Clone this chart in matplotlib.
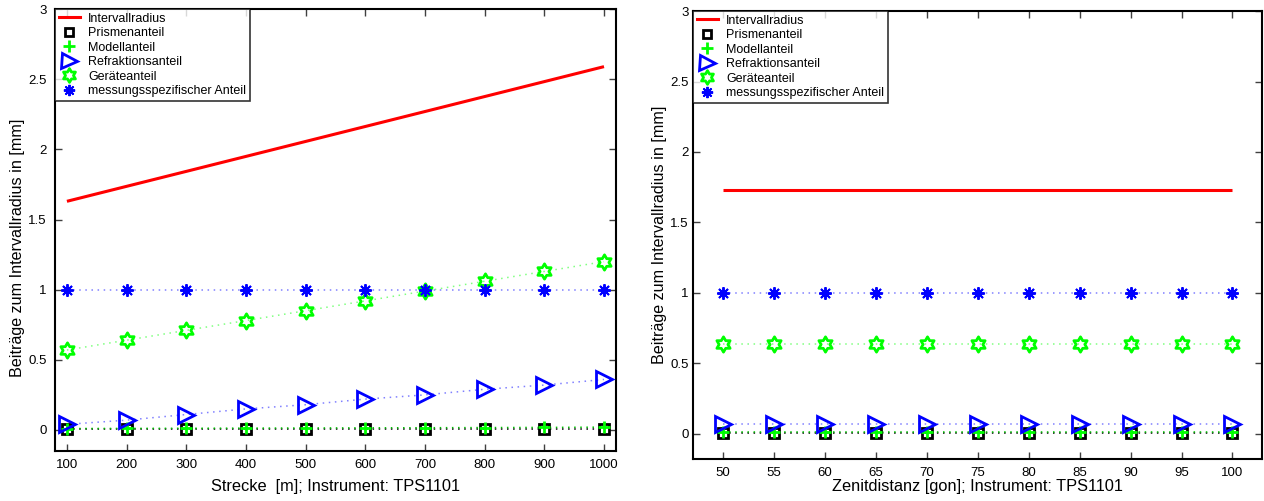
import numpy as np
import matplotlib
matplotlib.use("Agg")
import matplotlib.pyplot as plt
from matplotlib.path import Path
from matplotlib.ticker import FuncFormatter
from matplotlib.lines import Line2D
from matplotlib.transforms import blended_transform_factory

plt.rcParams['font.family'] = ['Liberation Sans', 'DejaVu Sans']

# ---------------- data ----------------
strecke = [100, 200, 300, 400, 500, 600, 700, 800, 900, 1000]
L_intervall = [1.63, 1.7367, 1.8433, 1.95, 2.0567, 2.1633, 2.27, 2.3767, 2.4833, 2.59]
L_prisma = [0.01, 0.01, 0.01, 0.01, 0.01, 0.01, 0.01, 0.01, 0.01, 0.01]
L_modell = [0.01, 0.011, 0.012, 0.013, 0.014, 0.015, 0.016, 0.017, 0.018, 0.02]
L_refrak = [0.04, 0.07, 0.11, 0.15, 0.18, 0.22, 0.25, 0.29, 0.32, 0.36]
L_geraet = [0.57, 0.64, 0.71, 0.78, 0.85, 0.92, 0.99, 1.06, 1.13, 1.20]
L_messung = [1.0, 1.0, 1.0, 1.0, 1.0, 1.0, 1.0, 1.0, 1.0, 1.0]

zenit = [50, 55, 60, 65, 70, 75, 80, 85, 90, 95, 100]
R_intervall = [1.73] * 11
R_prisma = [0.005] * 11
R_modell = [0.01] * 11
R_refrak = [0.07] * 11
R_geraet = [0.64] * 11
R_messung = [1.0] * 11

labels = ['Intervallradius', 'Prismenanteil', 'Modellanteil', 'Refraktionsanteil',
          'Geräteanteil', 'messungsspezifischer Anteil']
left_xticks = strecke
right_xticks = zenit
yticks = [0, 0.5, 1, 1.5, 2, 2.5, 3]

# ---------------- markers ----------------
ang = np.deg2rad(90 + 30 * np.arange(12))
rad = np.where(np.arange(12) % 2 == 0, 1.0, 1 / np.sqrt(3))
verts = np.column_stack([rad * np.cos(ang), rad * np.sin(ang)])
verts = np.vstack([verts, verts[0]])
codes = [Path.MOVETO] + [Path.LINETO] * 11 + [Path.CLOSEPOLY]
hexagram = Path(verts, codes)

RED = '#ff0000'
GREEN = '#00ff00'
BLUE = '#0000ff'

styles = [
    dict(color=RED, marker=None, ms=0, mew=0),
    dict(color='black', marker='s', ms=6.5, mew=2.0),
    dict(color=GREEN, marker='+', ms=9, mew=2.0),
    dict(color=BLUE, marker='>', ms=12, mew=2.0),
    dict(color=GREEN, marker=hexagram, ms=11, mew=2.0),
    dict(color=BLUE, marker=(8, 2, 0), ms=9, mew=1.4),
]

fig = plt.figure(figsize=(12.64, 5.01), dpi=100)
ax1 = fig.add_axes([0.0435, 0.0998, 0.4438, 0.882])
ax2 = fig.add_axes([0.5483, 0.0838, 0.4501, 0.894])


def draw(ax, x, series, xticks, xlim, ylim, xlabel, ylab_xy, ypad):
    inter, prism, modell, refrak, geraet, mess = series
    ax.plot(x, inter, color=RED, lw=2.2, solid_capstyle='butt', zorder=3)
    # dotted connecting lines
    dotted = [(prism, 'black'), (modell, '#00c000'), (refrak, '#8080ff'),
              (geraet, '#80ff80'), (mess, '#8080ff')]
    for ys, c in dotted:
        ax.plot(x, ys, color=c, lw=1.1, ls=(0, (1, 3)), zorder=2)
    # markers
    for ys, st in zip([prism, modell, refrak, geraet, mess], styles[1:]):
        ax.plot(x, ys, ls='none', marker=st['marker'], ms=st['ms'],
                mfc='none', mec=st['color'], mew=st['mew'], zorder=4)
    ax.set_xlim(*xlim)
    ax.set_ylim(*ylim)
    ax.set_xticks(xticks)
    ax.set_yticks(yticks)
    ax.yaxis.set_major_formatter(FuncFormatter(lambda v, p: '%g' % v))
    ax.tick_params(direction='in', length=5, width=1, top=True, right=True,
                   labelsize=9.5, pad=6, color='#404040')
    ax.tick_params(axis='y', pad=ypad)
    for sp in ax.spines.values():
        sp.set_linewidth(1.5)
    ax.set_xlabel(xlabel, fontsize=11.8)
    ax.xaxis.set_label_coords(0.5, 0.0439,
                              transform=blended_transform_factory(ax.transAxes, fig.transFigure))
    ax.set_ylabel('Beiträge zum Intervallradius in [mm]', fontsize=11.6)
    ax.yaxis.set_label_coords(*ylab_xy)

    handles = [Line2D([], [], color=RED, lw=2.2)]
    for st in styles[1:]:
        handles.append(Line2D([], [], ls='none', marker=st['marker'], ms=st['ms'] * 0.9,
                              mfc='none', mec=st['color'], mew=st['mew']))
    leg = ax.legend(handles, labels, loc='upper left', fontsize=9, frameon=True,
                    fancybox=False, borderaxespad=0, handlelength=1.7,
                    handletextpad=0.65, labelspacing=0.2, borderpad=0.3)
    leg.get_frame().set_edgecolor('black')
    leg.get_frame().set_linewidth(1.2)


draw(ax1, strecke, [L_intervall, L_prisma, L_modell, L_refrak, L_geraet, L_messung],
     left_xticks, (80, 1020), (-0.15, 3), 'Strecke  [m]; Instrument: TPS1101',
     (-0.054, 0.459), 6)
draw(ax2, zenit, [R_intervall, R_prisma, R_modell, R_refrak, R_geraet, R_messung],
     right_xticks, (47.05, 102.9), (-0.18, 3), 'Zenitdistanz [gon]; Instrument: TPS1101',
     (-0.045, 0.5), 3)

fig.savefig('out.png', dpi=100)
